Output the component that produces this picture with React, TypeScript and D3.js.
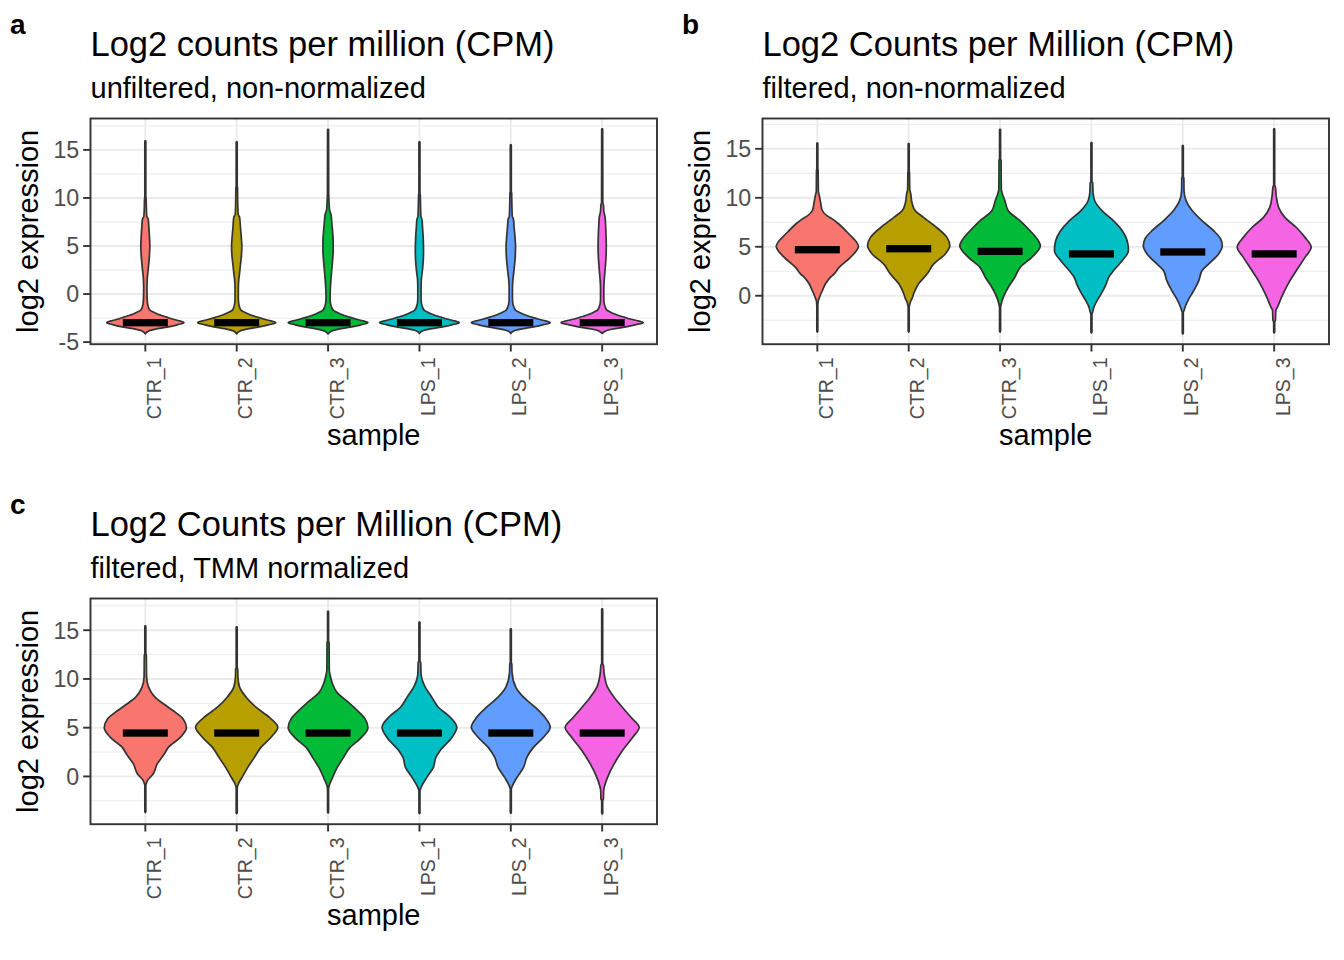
import React from 'react';
import * as d3 from 'd3';

type Prof = [number, number][];

const SAMPLES = ['CTR_1', 'CTR_2', 'CTR_3', 'LPS_1', 'LPS_2', 'LPS_3'];
const FILLS = ['#F8766D', '#B79F00', '#00BA38', '#00BFC4', '#619CFF', '#F564E3'];

const TAGS = ['a', 'b', 'c'];
const TITLES = ['Log2 counts per million (CPM)', 'Log2 Counts per Million (CPM)', 'Log2 Counts per Million (CPM)'];
const SUBTITLES = ['unfiltered, non-normalized', 'filtered, non-normalized', 'filtered, TMM normalized'];
const X_TITLE = 'sample';
const Y_TITLE = 'log2 expression';

// violin density profiles: [log2 value, relative half-width]
const A_PROFILES: Prof[] = [
  [[-4.15, 0], [-3.95, 0.04], [-3.78, 0.12], [-3.6, 0.3], [-3.44, 0.53], [-3.2, 0.78], [-2.98, 0.94], [-2.75, 0.8], [-2.6, 0.66], [-2.4, 0.52], [-2.2, 0.38], [-2.05, 0.28], [-1.85, 0.18], [-1.7, 0.12], [-1.3, 0.07], [-1.0, 0.055], [-0.5, 0.045], [0.5, 0.04], [1.5, 0.045], [2.0, 0.055], [3.0, 0.08], [4.0, 0.1], [5.0, 0.11], [6.0, 0.1], [7.0, 0.085], [7.8, 0.07], [8.1, 0.035], [9.0, 0.025], [9.8, 0.02], [10.2, 0.012], [15.9, 0.012], [15.95, 0]],
  [[-4.15, 0], [-3.95, 0.04], [-3.78, 0.12], [-3.6, 0.3], [-3.44, 0.52], [-3.2, 0.77], [-2.98, 0.95], [-2.75, 0.8], [-2.6, 0.65], [-2.4, 0.5], [-2.2, 0.36], [-2.05, 0.27], [-1.85, 0.17], [-1.7, 0.11], [-1.3, 0.065], [-1.0, 0.05], [-0.5, 0.04], [0.5, 0.04], [1.5, 0.05], [2.0, 0.065], [3.0, 0.09], [4.0, 0.115], [5.0, 0.125], [6.0, 0.11], [7.0, 0.09], [8.0, 0.07], [8.3, 0.035], [9.5, 0.025], [11.0, 0.02], [11.3, 0.012], [15.8, 0.012], [15.85, 0]],
  [[-4.15, 0], [-3.95, 0.05], [-3.78, 0.13], [-3.6, 0.31], [-3.44, 0.54], [-3.2, 0.8], [-2.98, 0.97], [-2.75, 0.82], [-2.6, 0.67], [-2.4, 0.52], [-2.2, 0.38], [-2.05, 0.29], [-1.85, 0.19], [-1.7, 0.13], [-1.3, 0.08], [-1.0, 0.06], [-0.5, 0.05], [0.5, 0.055], [1.5, 0.07], [2.5, 0.09], [3.5, 0.11], [4.5, 0.125], [5.5, 0.125], [6.5, 0.11], [7.5, 0.09], [8.3, 0.07], [8.8, 0.035], [9.5, 0.025], [10.5, 0.015], [17.1, 0.012], [17.15, 0]],
  [[-4.1, 0], [-3.92, 0.04], [-3.76, 0.12], [-3.6, 0.3], [-3.44, 0.53], [-3.2, 0.79], [-2.98, 0.97], [-2.75, 0.82], [-2.6, 0.67], [-2.4, 0.52], [-2.2, 0.37], [-2.05, 0.28], [-1.85, 0.18], [-1.7, 0.12], [-1.3, 0.07], [-1.0, 0.05], [-0.5, 0.04], [0.5, 0.04], [1.5, 0.045], [2.0, 0.06], [3.0, 0.085], [4.5, 0.1], [6.0, 0.09], [7.0, 0.075], [7.8, 0.06], [8.1, 0.035], [9.5, 0.025], [10.3, 0.02], [10.5, 0.012], [15.8, 0.012], [15.85, 0]],
  [[-4.1, 0], [-3.92, 0.04], [-3.76, 0.12], [-3.6, 0.3], [-3.44, 0.52], [-3.2, 0.78], [-2.98, 0.96], [-2.75, 0.81], [-2.6, 0.66], [-2.4, 0.51], [-2.2, 0.37], [-2.05, 0.28], [-1.85, 0.18], [-1.7, 0.12], [-1.3, 0.07], [-1.0, 0.05], [-0.5, 0.04], [0.5, 0.04], [1.5, 0.05], [2.0, 0.065], [3.0, 0.09], [4.0, 0.11], [5.0, 0.115], [6.0, 0.1], [7.0, 0.08], [7.8, 0.065], [8.1, 0.035], [9.5, 0.025], [10.5, 0.02], [10.7, 0.012], [15.5, 0.012], [15.55, 0]],
  [[-4.1, 0], [-3.92, 0.05], [-3.76, 0.13], [-3.6, 0.31], [-3.44, 0.55], [-3.2, 0.81], [-2.98, 1.0], [-2.75, 0.84], [-2.6, 0.68], [-2.4, 0.53], [-2.2, 0.38], [-2.05, 0.29], [-1.85, 0.19], [-1.7, 0.12], [-1.3, 0.07], [-1.0, 0.05], [-0.5, 0.04], [0.5, 0.04], [1.5, 0.05], [2.0, 0.06], [3.0, 0.08], [4.0, 0.095], [5.0, 0.1], [6.0, 0.095], [7.0, 0.085], [8.0, 0.07], [8.6, 0.04], [9.3, 0.03], [9.5, 0.015], [17.15, 0.012], [17.2, 0]],
];
const A_MEDIANS = [-2.98, -2.98, -2.98, -2.98, -2.98, -2.98];

const B_PROFILES: Prof[] = [
  [[-3.7, 0], [-3.6, 0.012], [-1.0, 0.012], [-0.5, 0.025], [-0.2, 0.05], [0.03, 0.07], [0.6, 0.13], [1.22, 0.2], [1.8, 0.3], [2.24, 0.41], [2.9, 0.53], [3.9, 0.8], [4.6, 0.95], [5.04, 1.0], [5.5, 0.95], [5.96, 0.85], [6.6, 0.7], [7.3, 0.53], [7.8, 0.38], [8.16, 0.24], [8.7, 0.12], [9.5, 0.08], [10.2, 0.05], [10.7, 0.025], [12.8, 0.02], [13.0, 0.012], [15.55, 0.012], [15.6, 0]],
  [[-3.7, 0], [-3.6, 0.012], [-1.2, 0.012], [-0.9, 0.025], [-0.65, 0.04], [-0.3, 0.08], [0.2, 0.12], [1.22, 0.24], [2.24, 0.45], [3.25, 0.61], [4.27, 0.89], [5.1, 1.0], [5.96, 0.93], [6.97, 0.68], [8.0, 0.36], [8.67, 0.16], [9.5, 0.08], [10.4, 0.05], [10.9, 0.025], [12.5, 0.02], [12.8, 0.012], [15.5, 0.012], [15.55, 0]],
  [[-3.7, 0], [-3.6, 0.012], [-1.3, 0.012], [-1.0, 0.02], [-0.81, 0.03], [-0.14, 0.08], [0.87, 0.2], [1.89, 0.36], [2.9, 0.49], [3.92, 0.77], [5.1, 0.98], [5.62, 0.93], [6.64, 0.73], [7.65, 0.49], [8.67, 0.2], [9.68, 0.12], [10.5, 0.05], [10.9, 0.03], [13.8, 0.025], [14.0, 0.012], [16.95, 0.012], [17.0, 0]],
  [[-3.8, 0], [-3.7, 0.012], [-1.9, 0.012], [-1.67, 0.03], [-1.16, 0.06], [-0.48, 0.14], [0.37, 0.26], [1.22, 0.36], [1.89, 0.42], [2.57, 0.54], [3.59, 0.75], [4.6, 0.9], [5.62, 0.87], [6.64, 0.75], [7.65, 0.54], [8.67, 0.26], [9.7, 0.08], [10.5, 0.04], [11.5, 0.03], [11.7, 0.012], [15.6, 0.012], [15.65, 0]],
  [[-3.9, 0], [-3.8, 0.012], [-1.7, 0.012], [-1.5, 0.03], [-0.99, 0.07], [-0.3, 0.15], [0.54, 0.27], [1.55, 0.39], [2.57, 0.47], [3.25, 0.63], [4.27, 0.87], [5.1, 0.96], [5.8, 0.92], [6.64, 0.75], [7.65, 0.47], [8.67, 0.23], [9.68, 0.08], [10.7, 0.03], [12.0, 0.025], [12.2, 0.012], [15.3, 0.012], [15.35, 0]],
  [[-3.8, 0], [-3.7, 0.012], [-2.7, 0.012], [-2.5, 0.03], [-1.5, 0.04], [-1.16, 0.08], [-0.14, 0.18], [1.22, 0.34], [2.57, 0.54], [3.92, 0.75], [4.94, 0.9], [5.96, 0.75], [6.97, 0.54], [8.0, 0.26], [9.0, 0.11], [10.2, 0.05], [11.1, 0.03], [11.3, 0.012], [17.0, 0.012], [17.05, 0]],
];
const B_MEDIANS = [4.7, 4.8, 4.53, 4.27, 4.47, 4.27];

const C_PROFILES: Prof[] = [
  [[-3.7, 0], [-3.6, 0.012], [-0.9, 0.012], [-0.7, 0.025], [-0.44, 0.05], [0.25, 0.19], [1.28, 0.29], [2.3, 0.46], [2.98, 0.56], [4.0, 0.85], [4.98, 1.0], [5.9, 0.92], [6.76, 0.67], [7.45, 0.44], [8.1, 0.24], [9.16, 0.08], [10.26, 0.03], [12.4, 0.025], [12.6, 0.012], [15.4, 0.012], [15.45, 0]],
  [[-3.82, 0], [-3.72, 0.012], [-1.2, 0.012], [-0.78, 0.04], [-0.1, 0.13], [0.93, 0.27], [1.95, 0.43], [2.98, 0.59], [4.0, 0.83], [5.04, 1.0], [6.07, 0.79], [7.1, 0.47], [8.13, 0.23], [9.16, 0.07], [10.2, 0.03], [11.0, 0.025], [11.2, 0.012], [15.3, 0.012], [15.35, 0]],
  [[-3.75, 0], [-3.65, 0.012], [-1.3, 0.012], [-0.9, 0.03], [-0.2, 0.1], [0.9, 0.22], [1.9, 0.37], [2.9, 0.52], [3.95, 0.8], [5.0, 0.97], [5.9, 0.9], [6.8, 0.7], [7.7, 0.47], [8.6, 0.22], [9.6, 0.1], [10.4, 0.05], [10.9, 0.03], [13.7, 0.025], [13.9, 0.012], [16.9, 0.012], [16.95, 0]],
  [[-3.82, 0], [-3.72, 0.012], [-1.5, 0.012], [-1.13, 0.04], [-0.1, 0.18], [0.93, 0.34], [1.95, 0.4], [2.64, 0.5], [4.0, 0.79], [5.04, 0.91], [6.07, 0.75], [7.1, 0.46], [8.13, 0.3], [9.16, 0.14], [10.5, 0.04], [11.7, 0.03], [11.9, 0.012], [15.8, 0.012], [15.85, 0]],
  [[-3.78, 0], [-3.68, 0.012], [-1.3, 0.012], [-0.95, 0.04], [-0.1, 0.15], [0.93, 0.31], [1.95, 0.39], [2.98, 0.55], [4.0, 0.79], [5.04, 0.96], [6.07, 0.83], [7.1, 0.59], [8.13, 0.31], [9.16, 0.12], [10.7, 0.03], [11.5, 0.025], [11.7, 0.012], [15.1, 0.012], [15.15, 0]],
  [[-3.85, 0], [-3.75, 0.012], [-2.5, 0.012], [-2.3, 0.03], [-1.5, 0.035], [-1.13, 0.05], [-0.1, 0.13], [1.28, 0.29], [2.64, 0.49], [4.0, 0.74], [5.04, 0.9], [6.07, 0.7], [7.1, 0.49], [8.13, 0.29], [9.16, 0.13], [10.5, 0.05], [11.4, 0.03], [11.6, 0.012], [17.15, 0.012], [17.2, 0]],
];
const C_MEDIANS = [4.45, 4.45, 4.45, 4.45, 4.45, 4.45];

const FONT = '"Liberation Sans", Arial, Helvetica, sans-serif';
const BOX = { left: 90.5, right: 657, top: 118.5, bottom: 344.2 };
const TICK = 7.3;

interface PanelProps {
  ox: number;
  oy: number;
  profiles: Prof[];
  medians: number[];
  tag: string;
  title: string;
  subtitle: string;
}

function Panel({ ox, oy, profiles, medians, tag, title, subtitle }: PanelProps) {
  const all = profiles.flat();
  const lo = d3.min(all, (d) => d[0]) as number;
  const hi = d3.max(all, (d) => d[0]) as number;
  const pad = (hi - lo) * 0.05;
  const left = ox + BOX.left;
  const right = ox + BOX.right;
  const top = oy + BOX.top;
  const bottom = oy + BOX.bottom;
  const y = d3.scaleLinear().domain([lo - pad, hi + pad]).range([bottom, top]);
  const x = d3.scalePoint<string>().domain(SAMPLES).range([left, right]).padding(0.6);
  const half = x.step() * 0.45;
  const major = y.ticks(5);
  const [d0, d1] = y.domain();
  const minor: number[] = [];
  for (let v = Math.ceil(d0 / 2.5) * 2.5; v <= d1; v += 2.5) {
    if (Math.abs(v % 5) > 1e-6) minor.push(v);
  }
  const midY = (top + bottom) / 2;
  const midX = (left + right) / 2;

  return (
    <g>
      <text x={ox + 10} y={oy + 34} fontFamily={FONT} fontWeight="bold" fontSize={28} fill="#000">{tag}</text>
      <text x={left} y={oy + 56} fontFamily={FONT} fontSize={34.5} fill="#000">{title}</text>
      <text x={left} y={oy + 98} fontFamily={FONT} fontSize={29} fill="#000">{subtitle}</text>

      <rect x={left} y={top} width={right - left} height={bottom - top} fill="#FFFFFF" />
      {minor.map((v) => (
        <line key={'mn' + v} x1={left} x2={right} y1={y(v)} y2={y(v)} stroke="#EBEBEB" strokeWidth={1.0} />
      ))}
      {major.map((v) => (
        <line key={'mj' + v} x1={left} x2={right} y1={y(v)} y2={y(v)} stroke="#EBEBEB" strokeWidth={1.9} />
      ))}
      {SAMPLES.map((s) => (
        <line key={'vx' + s} x1={x(s)} x2={x(s)} y1={top} y2={bottom} stroke="#EBEBEB" strokeWidth={1.9} />
      ))}

      {profiles.map((p, i) => {
        const cx = x(SAMPLES[i]) as number;
        const area = d3
          .area<[number, number]>()
          .y((d) => y(d[0]))
          .x0((d) => cx - d[1] * half)
          .x1((d) => cx + d[1] * half)
          .curve(d3.curveMonotoneY);
        return (
          <path key={'v' + i} d={area(p) || ''} fill={FILLS[i]} stroke="#333333" strokeWidth={1.7} strokeLinejoin="round" />
        );
      })}
      {medians.map((m, i) => {
        const cx = x(SAMPLES[i]) as number;
        return <rect key={'m' + i} x={cx - 22.5} y={y(m) - 3.65} width={45} height={7.3} fill="#000" />;
      })}

      <rect x={left} y={top} width={right - left} height={bottom - top} fill="none" stroke="#333333" strokeWidth={1.9} />

      {major.map((v) => (
        <g key={'yt' + v}>
          <line x1={left - TICK} x2={left} y1={y(v)} y2={y(v)} stroke="#333333" strokeWidth={1.9} />
          <text x={left - TICK - 4} y={y(v)} dy="0.36em" textAnchor="end" fontFamily={FONT} fontSize={23.2} fill="#4D4D4D">{v}</text>
        </g>
      ))}
      {SAMPLES.map((s) => {
        const cx = x(s) as number;
        return (
          <g key={'xt' + s}>
            <line x1={cx} x2={cx} y1={bottom} y2={bottom + TICK} stroke="#333333" strokeWidth={1.9} />
            <text transform={`translate(${cx + 1.5},${bottom + TICK + 6}) rotate(-90)`} dy="0.72em" textAnchor="end" fontFamily={FONT} fontSize={19.5} fill="#4D4D4D">{s}</text>
          </g>
        );
      })}

      <text x={midX} y={oy + 445} textAnchor="middle" fontFamily={FONT} fontSize={29} fill="#000">{X_TITLE}</text>
      <text transform={`translate(${ox + 38},${midY}) rotate(-90)`} textAnchor="middle" fontFamily={FONT} fontSize={29} fill="#000">{Y_TITLE}</text>
    </g>
  );
}

export default function App() {
  return (
    <svg width={1344} height={960} style={{ position: 'absolute', left: 0, top: 0, background: '#FFFFFF' }}>
      <rect x={0} y={0} width={1344} height={960} fill="#FFFFFF" />
      <Panel ox={0} oy={0} profiles={A_PROFILES} medians={A_MEDIANS} tag={TAGS[0]} title={TITLES[0]} subtitle={SUBTITLES[0]} />
      <Panel ox={672} oy={0} profiles={B_PROFILES} medians={B_MEDIANS} tag={TAGS[1]} title={TITLES[1]} subtitle={SUBTITLES[1]} />
      <Panel ox={0} oy={480} profiles={C_PROFILES} medians={C_MEDIANS} tag={TAGS[2]} title={TITLES[2]} subtitle={SUBTITLES[2]} />
    </svg>
  );
}
